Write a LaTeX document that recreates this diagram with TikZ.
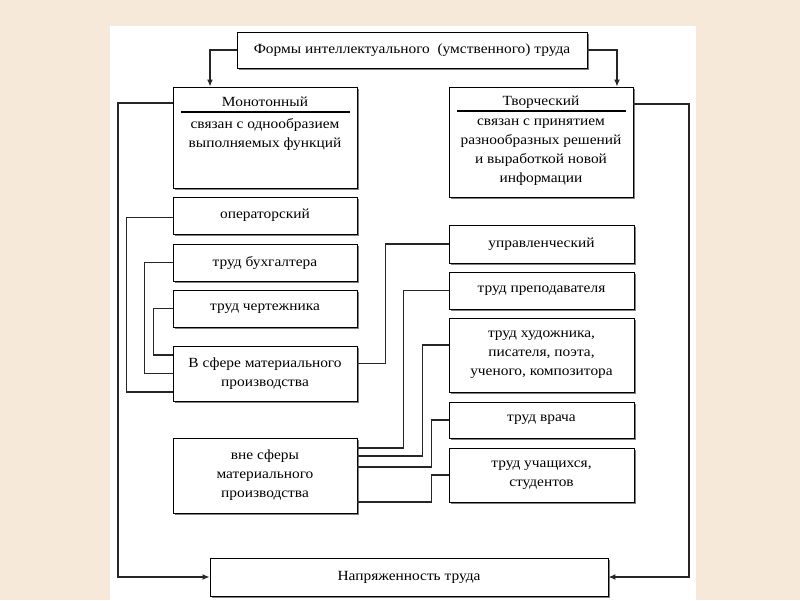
\documentclass[tikz,border=0pt]{standalone}
\usepackage{fontspec}
\setmainfont{Liberation Serif}[FakeStretch=1.1]
\usetikzlibrary{arrows.meta,shadows}
\definecolor{bgbeige}{RGB}{246,233,218}
\tikzset{
  box/.style={draw=black, line width=0.9pt, fill=white, inner sep=0pt, align=center,
    font=\fontsize{14}{19}\selectfont,
    drop shadow={shadow xshift=1.8pt, shadow yshift=-1.8pt, fill=black!50, opacity=1}},
  lbl/.style={inner sep=0pt, align=center, font=\fontsize{14}{19}\selectfont},
  conn/.style={line width=1.3pt, draw=black!85},
  arr/.style={conn, -{Latex[length=7pt,width=6pt]}},
  rule/.style={line width=1.4pt, draw=black}
}
\begin{document}
\begin{tikzpicture}[x=1pt,y=-1pt]
\path[use as bounding box] (0,0) rectangle (800,600);
\fill[bgbeige] (0,0) rectangle (800,600);
\fill[white] (110,26) rectangle (696,600);

% top
\node[box, minimum width=350pt, minimum height=36pt] (top) at (412,50) {Формы интеллектуального\ \ (умственного) труда};

% monotonous
\node[box, minimum width=184pt, minimum height=101pt] (mono) at (265,137.5) {};
\node[lbl] (monot) at (265,102) {Монотонный};
\draw[rule] (181,112) -- (350,112);
\node[lbl] (monob) at (265,134) {связан с однообразием\\выполняемых функций};

% creative
\node[box, minimum width=184pt, minimum height=110pt] (tvor) at (541,142) {};
\node[lbl] (tvort) at (541,102) {Творческий};
\draw[rule] (457,111) -- (626,111);
\node[lbl] (tvorb) at (541,152) {связан с принятием\\разнообразных решений\\и выработкой новой\\информации};

% left column
\node[box, minimum width=184pt, minimum height=37pt] (oper) at (265,215.5) {операторский};
\node[box, minimum width=184pt, minimum height=37pt] (buh) at (265,262.5) {труд бухгалтера};
\node[box, minimum width=184pt, minimum height=37pt] (cherj) at (265,308.5) {труд чертежника};
\node[box, minimum width=184pt, minimum height=55pt] (vsf) at (265,373.5) {В сфере материального\\производства};
\node[box, minimum width=184pt, minimum height=75pt] (vne) at (265,475.5) {вне сферы\\материального\\производства};

% right column
\node[box, minimum width=185pt, minimum height=38pt] (upr) at (541.5,244) {управленческий};
\node[box, minimum width=185pt, minimum height=37pt] (prep) at (541.5,290.5) {труд преподавателя};
\node[box, minimum width=185pt, minimum height=74pt] (hud) at (541.5,355) {труд художника,\\писателя, поэта,\\ученого, композитора};
\node[box, minimum width=185pt, minimum height=36pt] (vrach) at (541.5,420) {труд врача};
\node[box, minimum width=185pt, minimum height=54pt] (uch) at (541.5,475) {труд учащихся,\\студентов};

% bottom
\node[box, minimum width=398pt, minimum height=38pt] (napr) at (409,577) {Напряженность труда};

% arrows from top
\coordinate (a1) at (210,0);
\coordinate (a2) at (617,0);
\draw[arr] (top.west) -| (mono.north -| a1);
\draw[arr] (top.east) -| (tvor.north -| a2);

% outer loops to bottom
\coordinate (L) at (118,103);
\coordinate (R) at (689,104);
\draw[arr] (L -| mono.west) -- (L) |- (napr.west);
\draw[arr] (R -| tvor.east) -- (R) |- (napr.east);

% left connectors
\draw[conn] ([yshift=-2pt]oper.west) -- ++(-46,0) |- ([yshift=-18.5pt]vsf.west);
\draw[conn] (buh.west) -- ++(-28,0) |- (vsf.west);
\draw[conn] (cherj.west) -- ++(-19,0) |- ([yshift=18.5pt]vsf.west);

% right connectors
\draw[conn] ([yshift=10pt]vsf.east) -- ++(28,0) |- (upr.west);
\draw[conn] ([yshift=27.5pt]vne.east) -- ++(46,0) |- (prep.west);
\draw[conn] ([yshift=19.5pt]vne.east) -- ++(65,0) |- ([yshift=10pt]hud.west);
\draw[conn] ([yshift=8.5pt]vne.east) -- ++(74,0) |- (vrach.west);
\draw[conn] ([yshift=-26.5pt]vne.east) -- ++(74,0) |- (uch.west);
\end{tikzpicture}
\end{document}
